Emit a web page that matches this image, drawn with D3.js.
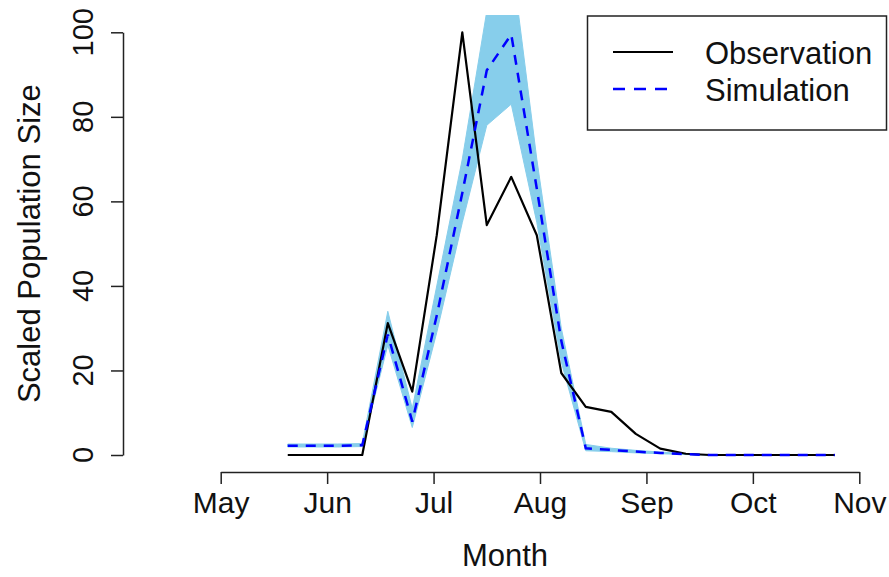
<!DOCTYPE html>
<html>
<head>
<meta charset="utf-8">
<script src="https://cdn.jsdelivr.net/npm/d3@7"></script>
<style>
  body { margin: 0; background: #fff; }
  text { font-family: "Liberation Sans", Arial, Helvetica, sans-serif; fill: #111; }
</style>
</head>
<body>
<svg id="canvas"></svg>
<script>
// month axis (x in month units, 5 = 1 May)
const monthTicks = [5, 6, 7, 8, 9, 10, 11];
const monthLabels = ["May", "Jun", "Jul", "Aug", "Sep", "Oct", "Nov"];
const yTicks = [0, 20, 40, 60, 80, 100];

// weekly sampling dates, in month units
const weeks = [5.63, 5.87, 6.10, 6.33, 6.57, 6.80, 7.03, 7.27, 7.50, 7.73, 7.97, 8.20,
  8.43, 8.67, 8.90, 9.13, 9.37, 9.60, 9.83, 10.07, 10.30, 10.53, 10.77];

const observation = [0, 0, 0, 0, 31.2, 15, 52, 100, 54.4, 65.8, 52, 19.4,
  11.4, 10.2, 5, 1.5, 0.3, 0, 0, 0, 0, 0, 0];
const simulation = [2.2, 2.2, 2.2, 2.3, 28.5, 7.9, 33, 62, 91, 99.5, 63, 27,
  1.6, 1.2, 0.8, 0.5, 0.2, 0, 0, 0, 0, 0, 0];
const simLower = [1.9, 1.9, 1.9, 2.0, 26, 6.5, 29, 55, 78, 83, 55, 22,
  1.0, 0.8, 0.5, 0.3, 0.1, 0, 0, 0, 0, 0, 0];
const simUpper = [2.6, 2.6, 2.6, 2.7, 34, 11, 40, 70, 105, 118, 70, 30,
  2.5, 1.6, 1.1, 0.7, 0.3, 0, 0, 0, 0, 0, 0];

const legendItems = ["Observation", "Simulation"];

function getChartConfig() {
  let canvasWidth = 889,
    canvasHeight = 577;
  // plot region (R style, axes drawn on its edges)
  let plot = { left: 123, right: 887, top: 15, bottom: 472 };

  let svg = d3.select("#canvas");
  svg.attr("width", canvasWidth).attr("height", canvasHeight);

  return { canvasWidth, canvasHeight, plot, svg };
}

function getChartScales() {
  let xScale = d3.scaleLinear().domain([5, 11]).range([220.7, 859.3]);
  let yScale = d3.scaleLinear().domain([0, 100]).range([455, 32.3]);
  return { xScale, yScale };
}

function drawChart(scales, config) {
  let { svg, plot } = config;
  let { xScale, yScale } = scales;

  svg.append("clipPath")
    .attr("id", "plot-clip")
    .append("rect")
    .attr("x", plot.left)
    .attr("y", plot.top)
    .attr("width", plot.right - plot.left)
    .attr("height", plot.bottom - plot.top);

  let g = svg.append("g").attr("clip-path", "url(#plot-clip)");

  let rows = weeks.map((w, i) => ({
    x: w,
    obs: observation[i],
    sim: simulation[i],
    lo: simLower[i],
    hi: simUpper[i],
  }));

  const band = d3.area()
    .x((d) => xScale(d.x))
    .y0((d) => yScale(d.lo))
    .y1((d) => yScale(d.hi));

  g.append("path")
    .datum(rows)
    .attr("fill", "#87ceeb")
    .attr("stroke", "#87ceeb")
    .attr("stroke-width", 1)
    .attr("d", band);

  const obsLine = d3.line().x((d) => xScale(d.x)).y((d) => yScale(d.obs));
  const simLine = d3.line().x((d) => xScale(d.x)).y((d) => yScale(d.sim));

  g.append("path")
    .datum(rows)
    .attr("fill", "none")
    .attr("stroke", "#000")
    .attr("stroke-width", 2.2)
    .attr("stroke-linejoin", "round")
    .attr("d", obsLine);

  g.append("path")
    .datum(rows)
    .attr("fill", "none")
    .attr("stroke", "#0000ff")
    .attr("stroke-width", 2.5)
    .attr("stroke-dasharray", "10,8")
    .attr("d", simLine);
}

function drawAxes(scales, config) {
  let { svg, plot } = config;
  let { xScale, yScale } = scales;

  let axisX = d3.axisBottom(xScale)
    .tickValues(monthTicks)
    .tickFormat((d, i) => monthLabels[i])
    .tickSize(12)
    .tickSizeOuter(0)
    .tickPadding(8);

  let gx = svg.append("g")
    .attr("id", "x-axis")
    .attr("transform", `translate(0,${plot.bottom})`)
    .call(axisX);
  gx.select(".domain").attr("stroke", "#222").attr("stroke-width", 1.5);
  gx.selectAll(".tick line").attr("stroke", "#222").attr("stroke-width", 1.5);
  gx.selectAll(".tick text")
    .attr("fill", "#111")
    .style("font-size", "30px")
    .style("font-family", '"Liberation Sans", Arial, sans-serif');

  let axisY = d3.axisLeft(yScale)
    .tickValues(yTicks)
    .tickSize(12)
    .tickSizeOuter(0)
    .tickFormat("");

  let gy = svg.append("g")
    .attr("id", "y-axis")
    .attr("transform", `translate(${plot.left},0)`)
    .call(axisY);
  gy.select(".domain").attr("stroke", "#222").attr("stroke-width", 1.5);
  gy.selectAll(".tick line").attr("stroke", "#222").attr("stroke-width", 1.5);

  // rotated tick labels, as in base R graphics
  svg.append("g")
    .selectAll("text")
    .data(yTicks)
    .join("text")
    .attr("transform", (d) => `translate(93,${yScale(d)}) rotate(-90)`)
    .attr("text-anchor", "middle")
    .style("font-size", "29px")
    .text((d) => d);

  svg.append("text")
    .attr("id", "x-axis-label")
    .attr("x", (plot.left + plot.right) / 2)
    .attr("y", 566)
    .attr("text-anchor", "middle")
    .style("font-size", "31px")
    .text("Month");

  svg.append("text")
    .attr("id", "y-axis-label")
    .attr("transform", `translate(40,${(yScale(0) + yScale(100)) / 2}) rotate(-90)`)
    .attr("text-anchor", "middle")
    .style("font-size", "31px")
    .text("Scaled Population Size");
}

function drawLegend(config) {
  let { svg } = config;

  let lg = svg.append("g").attr("class", "legend");

  lg.append("rect")
    .attr("x", 587.5)
    .attr("y", 16)
    .attr("width", 299)
    .attr("height", 114)
    .attr("fill", "#fff")
    .attr("stroke", "#222")
    .attr("stroke-width", 1.5);

  let item = lg.selectAll(".legend-item")
    .data(legendItems)
    .join("g")
    .attr("class", "legend-item")
    .attr("transform", (d, i) => `translate(0,${52 + i * 37})`);

  item.append("line")
    .attr("x1", 613)
    .attr("x2", 673)
    .attr("stroke", (d, i) => (i === 0 ? "#000" : "#0000ff"))
    .attr("stroke-width", (d, i) => (i === 0 ? 2.2 : 2.5))
    .attr("stroke-dasharray", (d, i) => (i === 0 ? null : "12,9"));

  item.append("text")
    .attr("x", 705)
    .attr("y", 12)
    .style("font-size", "31px")
    .text((d) => d);
}

function showData() {
  let config = getChartConfig();
  let scales = getChartScales();
  drawChart(scales, config);
  drawAxes(scales, config);
  drawLegend(config);
}

showData();
</script>
</body>
</html>
